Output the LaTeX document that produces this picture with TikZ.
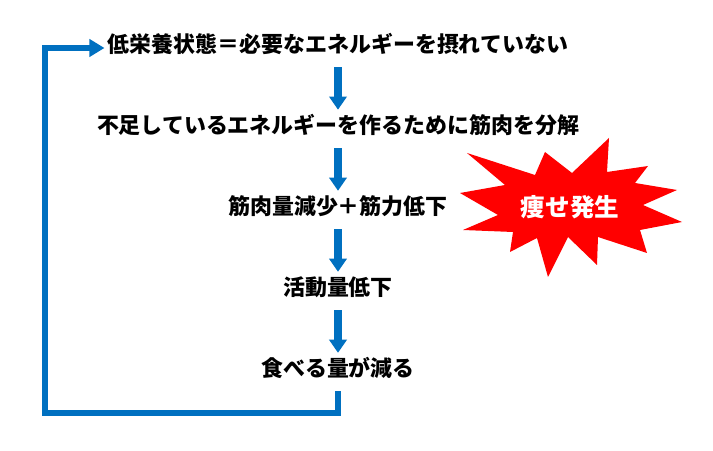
\documentclass[tikz,border=0pt]{standalone}
\usepackage{fontspec}
\newfontfamily\jpfont{Noto Sans CJK JP}
\usepackage{tikz}
\usetikzlibrary{arrows.meta, positioning}
\definecolor{cFlow}{RGB}{0,112,192}
\definecolor{cBurst}{RGB}{255,0,0}
\tikzset{
	stage/.style     ={inner sep=0pt, text height=0.8em, text depth=0.2em, font=\jpfont\bfseries\fontsize{15.6}{18}\selectfont},
	burstlabel/.style={inner sep=0pt, text=white, font=\jpfont\bfseries\fontsize{17.5}{20}\selectfont},
	flowarrow/.style ={-{Triangle[length=0.33cm, width=0.43cm]}, line width=0.18cm, draw=cFlow, shorten <=0.3cm, shorten >=0.3cm},
	backflow/.style  ={-{Triangle[length=0.38cm, width=0.43cm]}, line width=0.14cm, draw=cFlow},
}
\begin{document}
\begin{tikzpicture}[x=0.025cm, y=-0.025cm, node distance=1.66cm]
	\useasboundingbox (0,0) rectangle (713,451);
	\node[stage] (lowNutri) at (338,48) {低栄養状態＝必要なエネルギーを摂れていない};
	\node[stage, below=of lowNutri] (breakdown) {不足しているエネルギーを作るために筋肉を分解};
	\node[stage, below=of breakdown] (muscleLoss) {筋肉量減少＋筋力低下};
	\node[stage, below=of muscleLoss] (lessActive) {活動量低下};
	\node[stage, below=of lessActive] (eatLess) {食べる量が減る};
	\draw[flowarrow] (lowNutri) -- (breakdown); \draw[flowarrow] (breakdown) -- (muscleLoss);
	\draw[flowarrow] (muscleLoss) -- (lessActive); \draw[flowarrow] (lessActive) -- (eatLess);
	% back to the top
	\coordinate (loopCorner) at (45,413);
	\draw[backflow, shorten <=0.3cm, shorten >=0.08cm] (eatLess.south) |- (loopCorner) |- (lowNutri.west);
	% burst
	\fill[cBurst] (467,153) -- (535,175) -- (545,152) -- (572,173) -- (609,138) -- (607,172)
		-- (648,166) -- (635,183) -- (677,190) -- (643,205) -- (682,222) -- (640,230)
		-- (647,253) -- (598,237) -- (597,265) -- (568,237) -- (548,277) -- (537,238)
		-- (510,252) -- (513,232) -- (463,230) -- (498,215) -- (460,193) -- (505,185) -- cycle;
	\node[burstlabel] (thinning) at (570,207) {痩せ発生};
\end{tikzpicture}
\end{document}
